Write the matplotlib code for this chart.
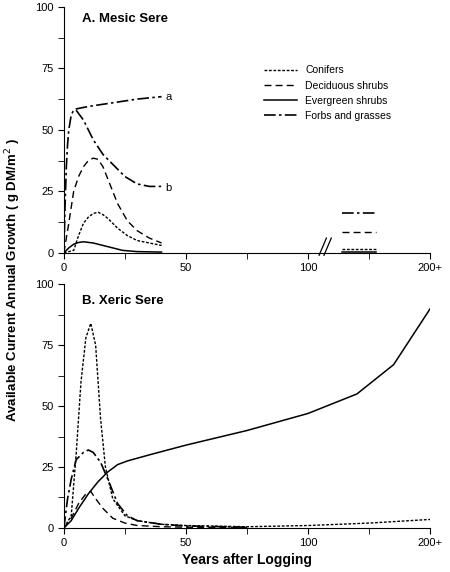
import matplotlib
matplotlib.use("Agg")
import matplotlib.pyplot as plt

plt.rcParams['font.family'] = ['Liberation Sans', 'DejaVu Sans']

xticks = [0, 50, 100, 150]
xticklabels = ["0", "50", "100", "200+"]
yticks = [0, 25, 50, 75, 100]

# Mesic sere
m_fa_x = [0, 0.5, 1, 1.5, 2, 3, 4, 5, 10, 20, 30, 40]
m_fa_y = [0, 20, 35, 44, 50, 56, 58, 58.5, 59.5, 61, 62.5, 63.5]
m_fb_x = [5, 8, 12, 16, 20, 25, 30, 35, 40]
m_fb_y = [58, 54, 46, 40, 36, 31, 28, 27, 27]
m_dec_x = [0, 2, 4, 6, 8, 10, 12, 14, 16, 18, 22, 26, 30, 35, 40]
m_dec_y = [0, 12, 25, 31, 35, 37.5, 38.5, 38, 35, 30, 20, 13, 9, 6, 4]
m_con_x = [0, 4, 6, 8, 10, 12, 14, 16, 18, 22, 26, 30, 35, 40]
m_con_y = [0, 1, 7, 12, 14.5, 16, 16.5, 15.5, 14, 10, 7, 5, 4, 3]
m_eve_x = [0, 2, 4, 6, 8, 12, 18, 24, 30, 40]
m_eve_y = [0, 2, 3.5, 4.2, 4.5, 4, 2.5, 1, 0.5, 0.3]
m_end_vals = [1.5, 8.5, 0.3, 16]  # conifers, deciduous, evergreen, forbs at 200+

# Xeric sere
x_con_x = [0, 3, 5, 7, 9, 11, 13, 15, 17, 20, 25, 30, 40, 50, 75, 100, 125, 150]
x_con_y = [0, 5, 30, 60, 78, 84, 75, 45, 25, 12, 5, 3, 1.5, 1, 0.5, 1, 2, 3.5]
x_frb_x = [0, 1.5, 3, 5, 8, 10, 12, 15, 18, 22, 26, 30, 40, 50, 75]
x_frb_y = [0, 12, 20, 28, 31, 32, 31, 27, 20, 10, 5, 3, 1.5, 0.8, 0.3]
x_dec_x = [0, 3, 6, 9, 11, 13, 16, 20, 25, 30, 40, 50, 75]
x_dec_y = [0, 4, 10, 14, 15, 12, 8, 4, 2, 1, 0.5, 0.3, 0.2]
x_eve_x = [0, 3, 6, 10, 14, 18, 22, 26, 35, 50, 75, 100, 120, 135, 150]
x_eve_y = [0, 3, 8, 14, 19, 23, 26, 27.5, 30, 34, 40, 47, 55, 67, 90]

styles = {
    'con': dict(ls=(0, (2, 1.2)), lw=1.0, color='black'),
    'dec': dict(ls=(0, (5, 3)), lw=1.0, color='black'),
    'eve': dict(ls='-', lw=1.1, color='black'),
    'frb': dict(ls=(0, (7, 2, 1.5, 2)), lw=1.2, color='black'),
}

fig = plt.figure(figsize=(4.5, 5.72), dpi=100)
ax1 = fig.add_axes([0.142, 0.558, 0.814, 0.43])
ax2 = fig.add_axes([0.142, 0.077, 0.814, 0.426])

for ax in (ax1, ax2):
    ax.set_xlim(0, 150)
    ax.set_ylim(0, 100)
    ax.spines['top'].set_visible(False)
    ax.spines['right'].set_visible(False)
    ax.set_xticks(xticks)
    ax.set_xticklabels(xticklabels)
    ax.set_xticks([25, 75, 125], minor=True)
    ax.set_yticks(yticks)
    ax.set_yticks([12.5, 37.5, 62.5, 87.5], minor=True)
    ax.tick_params(labelsize=8, direction='out', length=4)
    ax.tick_params(which='minor', length=4)

ax1.plot(m_fa_x, m_fa_y, **styles['frb'])
ax1.plot(m_fb_x, m_fb_y, **styles['frb'])
ax1.plot(m_dec_x, m_dec_y, **styles['dec'])
ax1.plot(m_con_x, m_con_y, **styles['con'])
ax1.plot(m_eve_x, m_eve_y, **styles['eve'])
ax1.text(41.5, 63.5, "a", fontsize=8, va='center')
ax1.text(41.5, 26.5, "b", fontsize=8, va='center')
for key, v in zip(['con', 'dec', 'eve', 'frb'], m_end_vals):
    ax1.plot([114, 128], [v, v], **styles[key])
# axis break marks
ax1.plot([104.5, 107.5], [-1, 6], color='black', lw=0.9, clip_on=False)
ax1.plot([106.5, 109.5], [-1, 6], color='black', lw=0.9, clip_on=False)
ax1.text(0.05, 0.95, "A. Mesic Sere", transform=ax1.transAxes, fontsize=9.5,
         fontweight='bold', va='center')

handles = [plt.Line2D([], [], **styles[k]) for k in ['con', 'dec', 'eve', 'frb']]
ax1.legend(handles, ["Conifers", "Deciduous shrubs", "Evergreen shrubs", "Forbs and grasses"],
           loc='upper left', bbox_to_anchor=(0.52, 0.8), frameon=False, fontsize=7.5,
           handlelength=3.2, labelspacing=0.5)

ax2.plot(x_con_x, x_con_y, **styles['con'])
ax2.plot(x_frb_x, x_frb_y, **styles['frb'])
ax2.plot(x_dec_x, x_dec_y, **styles['dec'])
ax2.plot(x_eve_x, x_eve_y, **styles['eve'])
ax2.text(0.05, 0.93, "B. Xeric Sere", transform=ax2.transAxes, fontsize=9.5,
         fontweight='bold', va='center')
ax2.set_xlabel("Years after Logging", fontsize=10, fontweight='bold', labelpad=3)

fig.text(0.03, 0.51, "Available Current Annual Growth ( g DM/m$^2$ )", rotation=90,
         fontsize=9.5, fontweight='bold', ha='center', va='center')

fig.savefig("out.png", dpi=100)
